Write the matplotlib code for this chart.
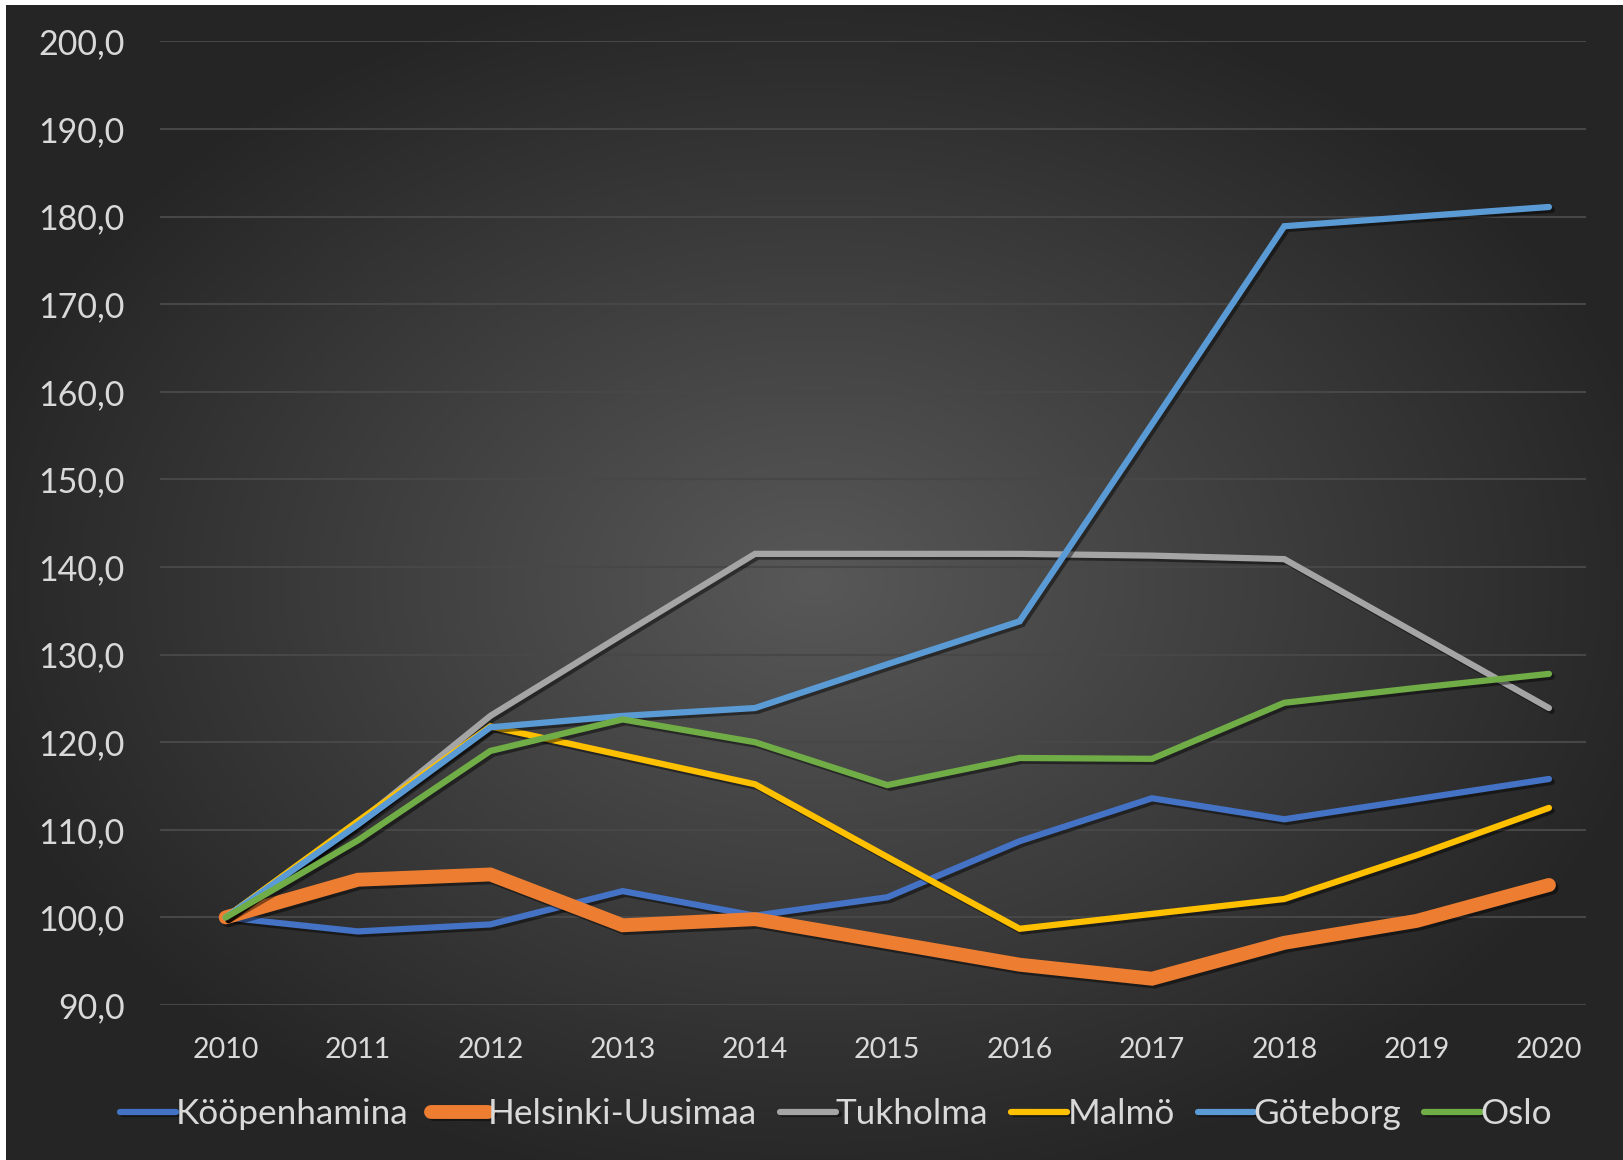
import numpy as np
import matplotlib
matplotlib.use('Agg')
import matplotlib.pyplot as plt
import matplotlib.patheffects as pe

plt.rcParams['font.family'] = ['Lato', 'DejaVu Sans']

years = ['2010', '2011', '2012', '2013', '2014', '2015', '2016', '2017', '2018', '2019', '2020']

kopenhamina = [100.0, 98.4, 99.2, 103.0, 100.2, 102.3, 108.7, 113.6, 111.2, 113.5, 115.8]
helsinki = [100.0, 104.3, 104.9, 99.1, 99.8, 97.2, 94.6, 93.0, 97.1, 99.6, 103.7]
tukholma = [100.0, 110.8, 123.0, 132.3, 141.5, 141.5, 141.5, 141.3, 140.9, 132.4, 123.9]
malmo = [100.0, 111.0, 121.8, 118.5, 115.2, 106.9, 98.7, 100.4, 102.1, 107.1, 112.5]
goteborg = [100.0, 110.6, 121.7, 123.0, 123.9, 128.9, 133.8, 156.3, 178.9, 180.0, 181.1]
oslo = [100.0, 108.8, 119.0, 122.6, 120.0, 115.1, 118.2, 118.1, 124.5, 126.2, 127.8]

series_names = ['Kööpenhamina', 'Helsinki-Uusimaa', 'Tukholma', 'Malmö', 'Göteborg', 'Oslo']
series_colors = ['#4472C4', '#ED7D31', '#A5A5A5', '#FFC000', '#5B9BD5', '#70AD47']
series_widths = [4.5, 10.0, 4.5, 4.5, 4.5, 4.5]

W, H = 1623, 1160
fig = plt.figure(figsize=(W / 100, H / 100), dpi=100, facecolor='white')

# dark radial gradient background (leaves thin white strip top/left)
bg = fig.add_axes([6 / W, 0, 1 - 6 / W, 1 - 5 / H])
bg.set_axis_off()
gx, gy = np.meshgrid(np.linspace(0, 1, 400), np.linspace(0, 1, 300))
r = np.sqrt(((gx - 0.5) / 0.75) ** 2 + ((gy - 0.5) / 0.75) ** 2)
r = np.clip(r / 0.72, 0, 1)
shade = 0x58 / 255 * (1 - r) + 0x25 / 255 * r
img = np.dstack([shade, shade, shade])
bg.imshow(img, extent=[0, 1, 0, 1], aspect='auto', origin='lower')

ax = fig.add_axes([159.5 / W, 1 - 1005 / H, (1586 - 159.5) / W, (1005 - 41.4) / H])
ax.set_facecolor('none')
x = np.arange(len(years))
data = [kopenhamina, helsinki, tukholma, malmo, goteborg, oslo]
for vals, name, col, lw in zip(data, series_names, series_colors, series_widths):
    ax.plot(x, vals, color=col, lw=lw, label=name, solid_capstyle='round',
            solid_joinstyle='miter',
            path_effects=[pe.SimpleLineShadow(offset=(2, -2), shadow_color='black', alpha=0.45),
                          pe.Normal()])

ax.set_xlim(-0.5, 10.28)
ax.set_ylim(90, 200)
ax.set_yticks(np.arange(90, 201, 10))
ax.set_yticklabels([f'{v:.1f}'.replace('.', ',') for v in np.arange(90, 201, 10)])
ax.set_xticks(x)
ax.set_xticklabels(years)
ax.grid(axis='y', color='#474747', lw=1.5)
ax.set_axisbelow(True)
for s in ax.spines.values():
    s.set_visible(False)
ax.tick_params(axis='both', length=0, colors='#D9D9D9')
ax.tick_params(axis='y', labelsize=24.5, pad=25)
ax.tick_params(axis='x', labelsize=20.5, pad=23)

leg = ax.legend(loc='center', bbox_to_anchor=(836 / W, 1 - 1114 / H),
                bbox_transform=fig.transFigure, ncol=6, frameon=False,
                fontsize=25.3, handlelength=1.6, handletextpad=0.0,
                columnspacing=0.65, labelcolor='#D9D9D9')
for h in leg.get_lines():
    h.set_solid_capstyle('round')

fig.savefig('out.png', dpi=100, facecolor='white')
